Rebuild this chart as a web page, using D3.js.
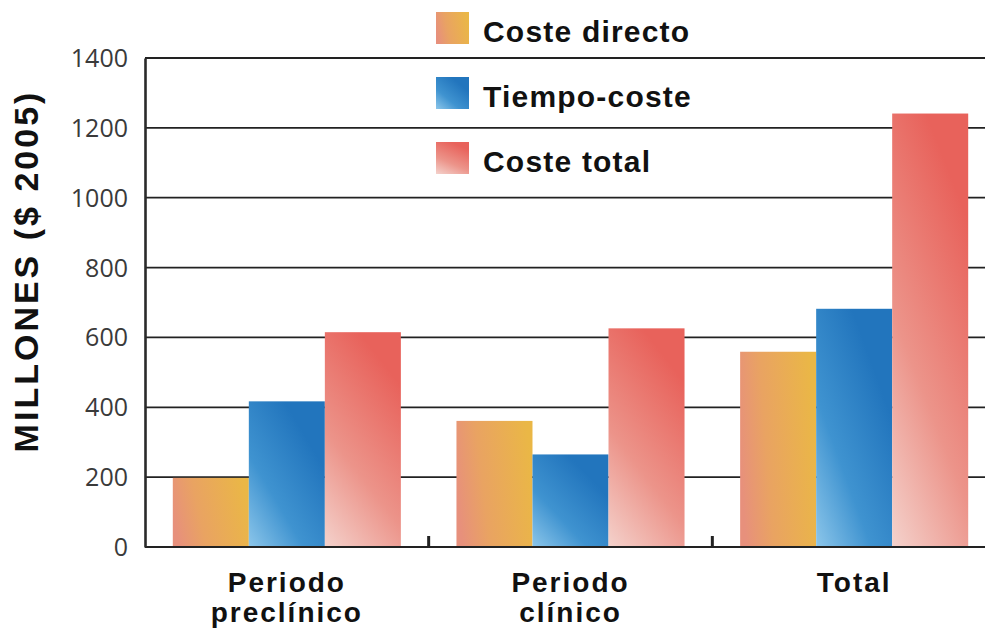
<!DOCTYPE html>
<html>
<head>
<meta charset="utf-8">
<script src="https://cdn.jsdelivr.net/npm/d3@7"></script>
<style>
  body { margin: 0; background: #fff; }
  svg { display: block; }
</style>
</head>
<body>
<div id="chart"></div>
<script>
// Data
const categories = ["Periodo preclínico", "Periodo clínico", "Total"];
const categoryLines = [["Periodo", "preclínico"], ["Periodo", "clínico"], ["Total"]];
const seriesNames = ["Coste directo", "Tiempo-coste", "Coste total"];
const costeDirecto = [198, 361, 559];
const tiempoCoste = [417, 265, 682];
const costeTotal = [615, 626, 1241];
const yTicks = [0, 200, 400, 600, 800, 1000, 1200, 1400];

const seriesValues = [costeDirecto, tiempoCoste, costeTotal];
const gradIds = ["gYellow", "gBlue", "gRed"];

const width = 985, height = 630;

const svg = d3.select("#chart")
  .append("svg")
  .attr("width", width)
  .attr("height", height);

// Gradients
const defs = svg.append("defs");

const gy = defs.append("linearGradient").attr("id", "gYellow")
  .attr("x1", 0).attr("y1", 0.6).attr("x2", 1).attr("y2", 0.4);
gy.append("stop").attr("offset", "0%").attr("stop-color", "#e7907c");
gy.append("stop").attr("offset", "35%").attr("stop-color", "#e9a362");
gy.append("stop").attr("offset", "100%").attr("stop-color", "#eab746");

const gb = defs.append("linearGradient").attr("id", "gBlue")
  .attr("x1", 0).attr("y1", 1).attr("x2", 0.7).attr("y2", 0.2);
gb.append("stop").attr("offset", "0%").attr("stop-color", "#8cc6ea");
gb.append("stop").attr("offset", "45%").attr("stop-color", "#3f93d0");
gb.append("stop").attr("offset", "100%").attr("stop-color", "#2275bd");

const gr = defs.append("linearGradient").attr("id", "gRed")
  .attr("x1", 0).attr("y1", 1).attr("x2", 0.45).attr("y2", 0);
gr.append("stop").attr("offset", "0%").attr("stop-color", "#f4d2cc");
gr.append("stop").attr("offset", "45%").attr("stop-color", "#ec948a");
gr.append("stop").attr("offset", "100%").attr("stop-color", "#e8625b");

// Scales
const x = d3.scaleBand()
  .domain(categories)
  .range([145, 996])
  .paddingInner(0.196)
  .paddingOuter(0.098);

const xs = d3.scaleBand()
  .domain(seriesNames)
  .range([0, x.bandwidth()]);

const y = d3.scaleLinear()
  .domain([0, 1400])
  .range([547, 58]);

// Gridlines
svg.append("g")
  .selectAll("line")
  .data(yTicks)
  .enter().append("line")
  .attr("x1", 145)
  .attr("x2", width)
  .attr("y1", d => y(d))
  .attr("y2", d => y(d))
  .attr("stroke", "#222")
  .attr("stroke-width", 1.8);

// Bars
const groups = svg.append("g")
  .selectAll("g")
  .data(categories)
  .enter().append("g")
  .attr("transform", d => `translate(${x(d)},0)`);

groups.selectAll("rect")
  .data((d, i) => seriesNames.map((s, j) => ({ s, j, v: seriesValues[j][i] })))
  .enter().append("rect")
  .attr("x", d => xs(d.s))
  .attr("y", d => y(d.v))
  .attr("width", xs.bandwidth())
  .attr("height", d => y(0) - y(d.v))
  .attr("fill", d => `url(#${gradIds[d.j]})`);

// Baseline redrawn on top of bars
svg.append("line")
  .attr("x1", 145).attr("x2", width)
  .attr("y1", y(0)).attr("y2", y(0))
  .attr("stroke", "#222")
  .attr("stroke-width", 2);

// Small separator ticks between groups
const gap = x.step() - x.bandwidth();
svg.append("g")
  .selectAll("line")
  .data(categories.slice(1))
  .enter().append("line")
  .attr("x1", d => x(d) - gap / 2)
  .attr("x2", d => x(d) - gap / 2)
  .attr("y1", y(0) - 11)
  .attr("y2", y(0))
  .attr("stroke", "#222")
  .attr("stroke-width", 3);

// Y axis
const yAxis = svg.append("g")
  .attr("transform", "translate(145,0)")
  .call(d3.axisLeft(y).tickValues(yTicks).tickFormat(d3.format("d"))
    .tickSize(0).tickSizeOuter(0).tickPadding(17));

yAxis.select(".domain")
  .attr("stroke", "#2a2a2a")
  .attr("stroke-width", 2.6);

yAxis.selectAll("text")
  .attr("font-family", "'Open Sans', sans-serif")
  .attr("font-size", 25)
  .attr("fill", "#3a3a3a")
  .attr("dy", "0.34em");

// X labels
const xLabels = svg.append("g")
  .selectAll("text")
  .data(categories)
  .enter().append("text")
  .attr("x", d => x(d) + x.bandwidth() / 2)
  .attr("y", 592)
  .attr("text-anchor", "middle")
  .attr("font-family", "'Liberation Sans', Arial, sans-serif")
  .attr("font-weight", "bold")
  .attr("font-size", 28)
  .attr("letter-spacing", 2)
  .attr("fill", "#111");

xLabels.selectAll("tspan")
  .data((d, i) => categoryLines[i])
  .enter().append("tspan")
  .attr("x", function () { return this.parentNode.getAttribute("x"); })
  .attr("dy", (d, i) => i === 0 ? 0 : 30)
  .text(d => d);

// Y title
svg.append("text")
  .attr("transform", "translate(38,271) rotate(-90)")
  .attr("text-anchor", "middle")
  .attr("font-family", "'Liberation Sans', Arial, sans-serif")
  .attr("font-weight", "bold")
  .attr("font-size", 34)
  .attr("letter-spacing", 3)
  .attr("fill", "#111")
  .text("MILLONES ($ 2005)");

// Legend
const legend = svg.append("g")
  .selectAll("g")
  .data(seriesNames)
  .enter().append("g")
  .attr("transform", (d, i) => `translate(436,${12 + i * 65})`);

legend.append("rect")
  .attr("width", 33)
  .attr("height", 32)
  .attr("fill", (d, i) => `url(#${gradIds[i]})`);

legend.append("text")
  .attr("x", 47)
  .attr("y", 30)
  .attr("font-family", "'Liberation Sans', Arial, sans-serif")
  .attr("font-weight", "bold")
  .attr("font-size", 30)
  .attr("letter-spacing", 1.2)
  .attr("fill", "#111")
  .text(d => d);
</script>
</body>
</html>
